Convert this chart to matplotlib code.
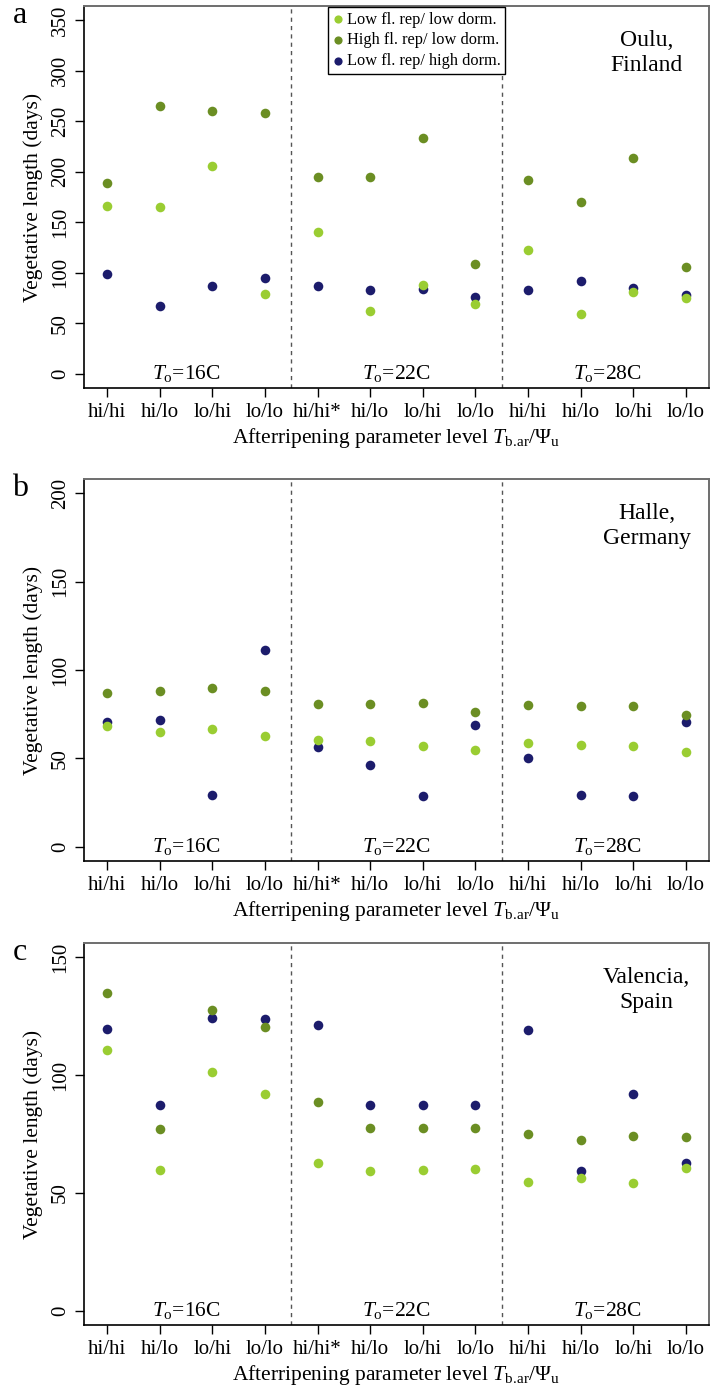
import matplotlib
matplotlib.use("Agg")
import matplotlib.pyplot as plt
import numpy as np

plt.rcParams['font.family'] = ['Liberation Serif', 'DejaVu Serif']
plt.rcParams['mathtext.fontset'] = 'custom'
plt.rcParams['mathtext.rm'] = 'Liberation Serif'
plt.rcParams['mathtext.it'] = 'Liberation Serif:italic'

# ---------------- data ----------------
categories = ['hi/hi', 'hi/lo', 'lo/hi', 'lo/lo',
              'hi/hi*', 'hi/lo', 'lo/hi', 'lo/lo',
              'hi/hi', 'hi/lo', 'lo/hi', 'lo/lo']
group_labels = ['16C', '22C', '28C']
series_names = ['Low fl. rep/ low dorm.', 'High fl. rep/ low dorm.', 'Low fl. rep/ high dorm.']

# Panel a: Oulu, Finland
oulu_low_low = [166, 165, 206, 79.5, 140, 62, 88, 69.5, 123, 59, 81, 74.6]
oulu_high_low = [189, 265, 260, 258, 195, 195, 233, 108.5, 192, 170.5, 213.5, 105.5]
oulu_low_high = [99, 67, 87, 95.3, 87.4, 83, 84, 76, 82.5, 92, 85.4, 78.5]

# Panel b: Halle, Germany
halle_low_low = [68.5, 65.2, 66.7, 62.9, 60.7, 59.7, 57.1, 54.5, 58.8, 57.5, 57.1, 53.7]
halle_high_low = [86.8, 88.1, 89.6, 88.1, 80.9, 80.6, 81.3, 76.1, 80.2, 79.4, 79.8, 74.4]
halle_low_high = [70.4, 71.5, 29.1, 111.2, 56.5, 46.2, 28.7, 68.7, 50.3, 29.5, 28.5, 70.6]

# Panel c: Valencia, Spain
valencia_low_low = [110.8, 59.7, 101.2, 91.8, 62.8, 59.3, 59.7, 60.0, 54.7, 56.4, 54.4, 60.6]
valencia_high_low = [134.7, 77.3, 127.4, 120.3, 88.7, 77.6, 77.5, 77.6, 74.9, 72.4, 74.1, 73.9]
valencia_low_high = [119.5, 87.2, 124.1, 123.6, 121.3, 87.2, 87.3, 87.3, 119.2, 59.3, 91.9, 62.8]

panel_letters = ['a', 'b', 'c']
locations = ['Oulu,\nFinland', 'Halle,\nGermany', 'Valencia,\nSpain']
y_max = [350, 200, 150]

colors = ['#9acd32', '#6b8e23', '#1c1c6c']

panels = [
    (oulu_low_low, oulu_high_low, oulu_low_high),
    (halle_low_low, halle_high_low, halle_low_high),
    (valencia_low_low, valencia_high_low, valencia_low_high),
]

# ---------------- figure ----------------
W, H = 715, 1389
fig = plt.figure(figsize=(W / 100, H / 100), dpi=100)

ax_left = 84 / W
ax_width = (709 - 84) / W
tops = [6, 479, 943]
ax_h_px = 382

x = np.arange(1, len(categories) + 1)

for i, (series, letter, loc, ymax) in enumerate(zip(panels, panel_letters, locations, y_max)):
    bottom = 1 - (tops[i] + ax_h_px) / H
    ax = fig.add_axes([ax_left, bottom, ax_width, ax_h_px / H])

    # draw order: navy, dark green, light green (light on top)
    order = [2, 1, 0]
    handles = {}
    for k in order:
        handles[k] = ax.scatter(x, series[k], s=48, color=colors[k], linewidths=0,
                                zorder=3, label=series_names[k])

    pad = 0.04 * ymax
    ax.set_ylim(-pad, ymax + pad)
    ax.set_xlim(1 - 0.04 * 11, 12 + 0.04 * 11)
    ax.set_yticks(np.arange(0, ymax + 1, 50))
    ax.set_xticks(x)
    ax.set_xticklabels(categories)
    for lab in ax.get_yticklabels():
        lab.set_rotation(90)
        lab.set_va('center')

    ax.tick_params(axis='both', labelsize=15, length=6.5, width=1, color='black',
                   direction='out')
    ax.tick_params(axis='x', pad=4)
    ax.tick_params(axis='y', pad=3.5)

    for s in ['left', 'bottom']:
        ax.spines[s].set_color('black')
        ax.spines[s].set_linewidth(1.2)
    for s in ['top', 'right']:
        ax.spines[s].set_color('#6e6e6e')
        ax.spines[s].set_linewidth(1.4)

    for xv in [4.5, 8.5]:
        ax.axvline(xv, color='#555555', lw=1, ls=(0, (3, 3)), zorder=1)

    for g, lab in enumerate(group_labels):
        ax.text(2.5 + 4 * g, 0, r'$T_{\mathrm{o}}$=' + lab, ha='center', va='center',
                fontsize=15.5, zorder=4)

    ax.text(0.90, 1 - 47 / ax_h_px, loc, transform=ax.transAxes, ha='center',
            va='center', fontsize=17, linespacing=1.22)

    ax.set_ylabel('Vegetative length (days)', fontsize=15.5, labelpad=6)
    ax.set_xlabel(r'Afterripening parameter level $T_{\mathrm{b.\!ar}}/\Psi_{\mathrm{u}}$',
                  fontsize=15.5, labelpad=3.5)

    ax.text(-64 / 625, 1 - 17 / ax_h_px, letter, transform=ax.transAxes,
            ha='center', va='baseline', fontsize=23)

    if i == 0:
        leg = ax.legend(handles=[handles[0], handles[1], handles[2]],
                        loc='upper left', bbox_to_anchor=(0.390, 0.998),
                        borderaxespad=0, fontsize=11.8, frameon=True, fancybox=False,
                        edgecolor='black', framealpha=1, handlelength=0.6,
                        handletextpad=0.25, borderpad=0.3, labelspacing=0.28,
                        scatterpoints=1, markerscale=0.85)
        leg.get_frame().set_linewidth(1.0)
        leg.set_zorder(5)

fig.savefig('out.png', dpi=100)
